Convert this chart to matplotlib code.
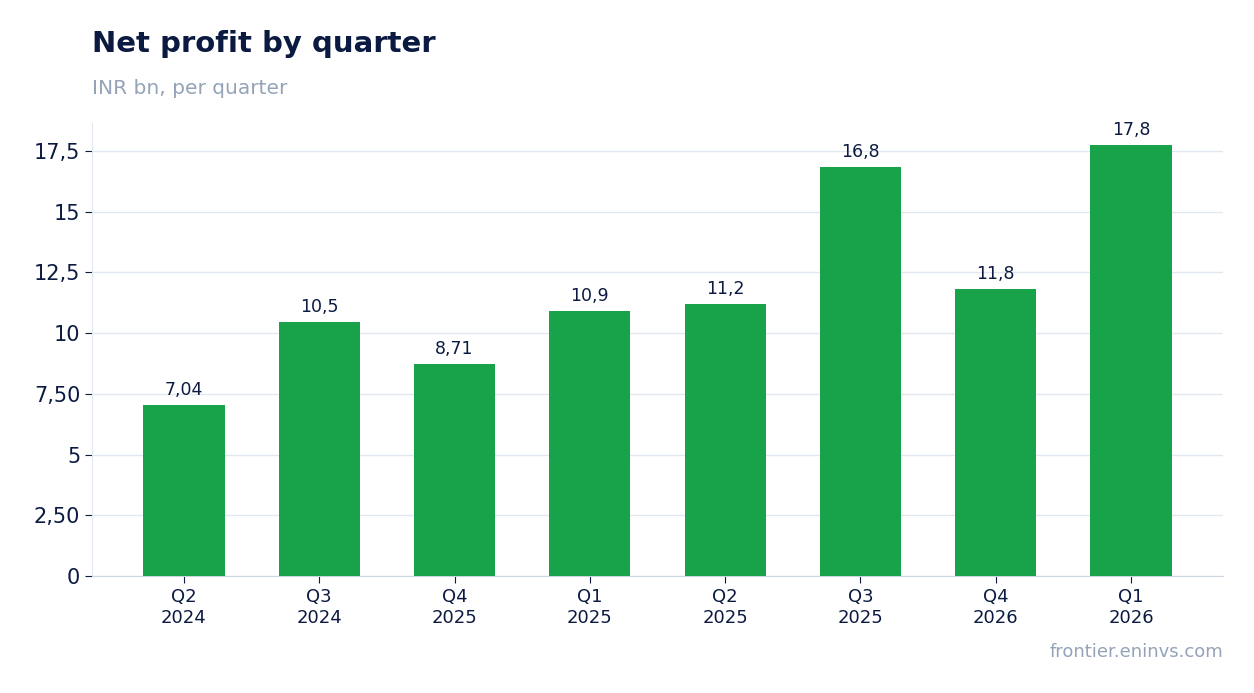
import matplotlib.pyplot as plt
import numpy as np

quarters = ['Q2\n2024', 'Q3\n2024', 'Q4\n2025', 'Q1\n2025', 'Q2\n2025', 'Q3\n2025', 'Q4\n2026', 'Q1\n2026']
profit = [7.04, 10.45, 8.71, 10.9, 11.2, 16.85, 11.8, 17.75]
bar_labels = ['7,04', '10,5', '8,71', '10,9', '11,2', '16,8', '11,8', '17,8']
yticks = [0, 2.5, 5, 7.5, 10, 12.5, 15, 17.5]
ytick_labels = ['0', '2,50', '5', '7,50', '10', '12,5', '15', '17,5']

green = '#18A34A'
navy = '#0B1A40'
grey = '#94A3B8'

fig = plt.figure(figsize=(12.54, 6.93), dpi=100)
ax = fig.add_axes((92/1254, 1-576/693, (1223-92)/1254, (576-123)/693))

x = np.arange(len(quarters))
ax.bar(x, profit, width=0.6, color=green, zorder=3)
for xi, v, lab in zip(x, profit, bar_labels):
    ax.text(xi, v + 0.25, lab, ha='center', va='bottom', fontsize=12.5, color=navy)

ax.set_xlim(-0.68, 7.68)
ax.set_ylim(0, 18.65)
ax.set_xticks(x, quarters, fontsize=13, color=navy)
ax.set_yticks(yticks, ytick_labels, fontsize=15, color=navy)
ax.grid(axis='y', color='#E2E8F0', linewidth=1, zorder=0)
ax.spines[['top', 'right']].set_visible(False)
ax.spines['left'].set_color('#E2E8F0')
ax.spines['bottom'].set_color('#CBD5E1')
ax.tick_params(axis='both', length=5, color=navy)

fig.text(92/1254, 1-44/693, 'Net profit by quarter', fontsize=21, fontweight='bold', color=navy, va='center')
fig.text(92/1254, 1-88/693, 'INR bn, per quarter', fontsize=14.5, color=grey, va='center')
fig.text(1223/1254, 1-652/693, 'frontier.eninvs.com', fontsize=13, color=grey, ha='right', va='center')

fig.savefig('out.png', dpi=100)
